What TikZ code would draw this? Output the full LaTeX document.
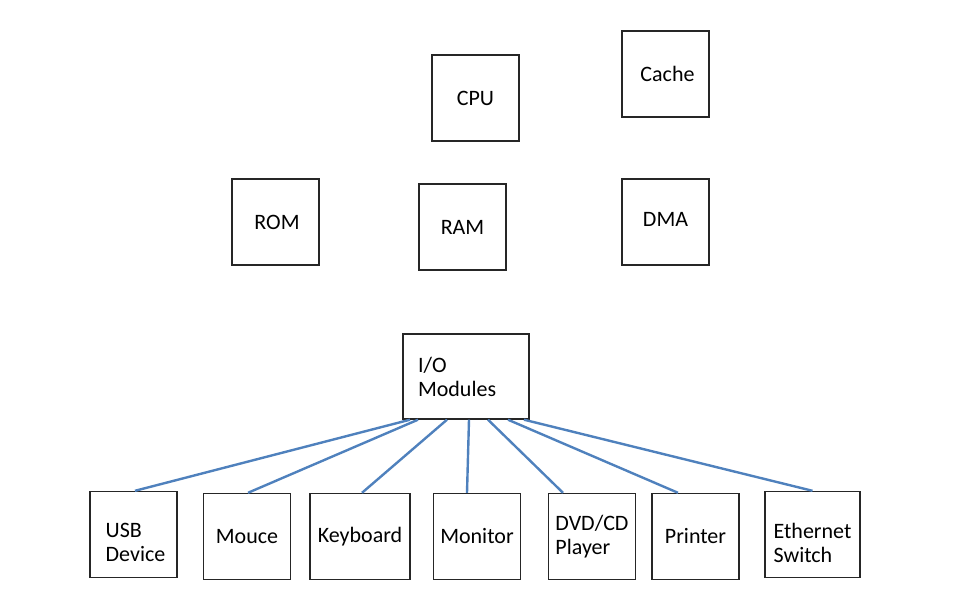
\documentclass[tikz,border=0pt]{standalone}
\usepackage{fontspec}
\setmainfont{Carlito}
\definecolor{linkblue}{RGB}{79,129,189}
\tikzset{
  box/.style={draw=black!85, line width=1.4pt, minimum width=87pt, minimum height=86pt,
    inner sep=0pt, align=left, font=\fontsize{22}{24}\selectfont},
  lbl/.style={inner sep=0pt, align=left, font=\fontsize{22}{24}\selectfont},
  link/.style={draw=linkblue, line width=2.4pt}
}
\begin{document}
\begin{tikzpicture}[x=1pt,y=1pt]
    % Cornice
    \useasboundingbox (0,0) rectangle (953,-605);

    % Blocchi superiori
    \node[box] (cpu) at (475.5,-98) {CPU};
    \node[box] (cache) at (665.5,-74) {\hspace*{4pt}Cache};
    \node[box] (rom) at (275.5,-222) {\hspace*{3pt}ROM};
    \node[box] (ram) at (462.5,-227) {RAM};
    \node[box, label={[lbl, yshift=3pt]center:DMA}] (dma) at (665.5,-222) {};

    % Modulo I/O
    \node[box, minimum height=85pt, text width=96pt, inner xsep=15pt] (io) at (466,-376.5) {I/O\\Modules};

    % Periferiche
    \node[box, label={[lbl, yshift=-8pt, xshift=2pt]center:{USB\\Device}}] (usb) at (133.5,-534.5) {};
    \node[box] (mouce) at (247,-536.5) {Mouce};
    \node[box, minimum width=100pt] (keyb) at (360,-536.5) {Keyboard};
    \node[box] (monitor) at (477,-536.5) {Monitor};
    \node[box] (dvd) at (592,-536.5) {DVD/CD\\Player};
    \node[box] (printer) at (695.5,-536.5) {Printer};
    \node[box, minimum width=95pt, label={[lbl, yshift=-8pt]center:{Ethernet\\Switch}}] (eth) at (812.5,-534.5) {};

    % Collegamenti
    \draw[link] ([xshift=-56pt]io.south) -- ([xshift=1.5pt]usb.north);
    \draw[link] ([xshift=-48pt]io.south) -- ([xshift=1pt]mouce.north);
    \draw[link] ([xshift=-19pt]io.south) -- ([xshift=2pt]keyb.north);
    \draw[link] ([xshift=3pt]io.south) -- ([xshift=-10pt]monitor.north);
    \draw[link] ([xshift=22pt]io.south) -- ([xshift=-29pt]dvd.north);
    \draw[link] ([xshift=42pt]io.south) -- ([xshift=-17.5pt]printer.north);
    \draw[link] ([xshift=58pt]io.south) -- (eth.north);
\end{tikzpicture}
\end{document}
